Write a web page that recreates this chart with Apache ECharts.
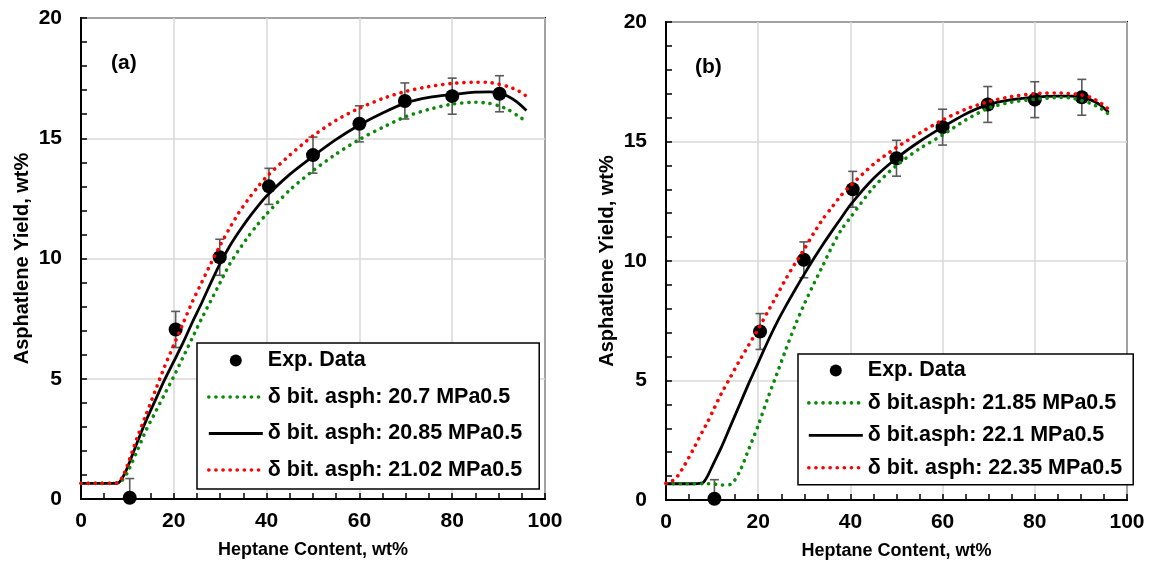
<!DOCTYPE html>
<html>
<head>
<meta charset="utf-8">
<script src="https://cdn.jsdelivr.net/npm/echarts@6/dist/echarts.min.js"></script>
<style>
html,body{margin:0;padding:0;background:#fff;}
#chart{width:1151px;height:573px;}
</style>
</head>
<body>
<div id="chart"></div>
<script>
// ---------- data ----------
const xTicks = [0, 20, 40, 60, 80, 100];
const yTicks = [0, 5, 10, 15, 20];

const expX   = [10.5, 20.4, 29.9, 40.5, 50, 60, 69.8, 80, 90.2];
const expY   = [0.05, 7.05, 10.05, 13.0, 14.3, 15.6, 16.55, 16.75, 16.85];
const expErr = [0.8, 0.75, 0.75, 0.75, 0.75, 0.75, 0.75, 0.75, 0.75];

const curveX = [0, 2, 4, 6, 8, 9, 10, 12, 14, 16, 18, 20, 22, 24, 26, 28, 30, 32, 34, 36, 38, 40,
                45, 50, 55, 60, 65, 70, 75, 80, 85, 88, 90, 92, 94, 96];

// panel (a)
const aGreen = [0.65, 0.65, 0.65, 0.65, 0.66, 0.8, 1.1, 1.95, 2.85, 3.6, 4.35, 5.1, 5.9, 6.7, 7.5, 8.25, 9.0, 9.75, 10.35, 10.9, 11.4, 11.85,
                12.85, 13.65, 14.35, 14.95, 15.45, 15.9, 16.2, 16.42, 16.5, 16.45, 16.35, 16.2, 15.95, 15.7];
const aBlack = [0.65, 0.65, 0.65, 0.65, 0.67, 0.9, 1.3, 2.3, 3.25, 4.1, 4.95, 5.72, 6.5, 7.35, 8.15, 9.0, 9.8, 10.5, 11.1, 11.65, 12.15, 12.6,
                13.5, 14.25, 14.95, 15.55, 16.05, 16.47, 16.7, 16.82, 16.92, 16.93, 16.88, 16.75, 16.5, 16.15];
const aRed   = [0.65, 0.65, 0.65, 0.65, 0.67, 0.95, 1.4, 2.5, 3.5, 4.5, 5.5, 6.4, 7.3, 8.2, 9.0, 9.8, 10.55, 11.25, 11.9, 12.45, 12.95, 13.4,
                14.3, 15.1, 15.75, 16.25, 16.65, 16.95, 17.15, 17.28, 17.33, 17.32, 17.25, 17.15, 17.0, 16.75];

// panel (b)
const bGreen = [0.68, 0.68, 0.68, 0.68, 0.68, 0.68, 0.68, 0.63, 0.65, 1.2, 2.15, 3.12, 4.22, 5.25, 6.3, 7.3, 8.2, 9.02, 9.8, 10.6, 11.3, 11.82,
                13.08, 14.0, 14.7, 15.27, 15.9, 16.4, 16.65, 16.77, 16.84, 16.82, 16.72, 16.6, 16.42, 16.15];
const bBlack = [0.68, 0.68, 0.68, 0.68, 0.72, 1.0, 1.4, 2.2, 3.1, 4.0, 4.9, 5.75, 6.6, 7.4, 8.12, 8.8, 9.45, 10.08, 10.68, 11.25, 11.8, 12.35,
                13.45, 14.3, 15.0, 15.6, 16.15, 16.55, 16.75, 16.86, 16.9, 16.9, 16.85, 16.75, 16.55, 16.22];
const bRed   = [0.7, 0.88, 1.45, 2.15, 2.9, 3.25, 3.65, 4.45, 5.15, 5.85, 6.5, 7.15, 7.85, 8.55, 9.25, 9.9, 10.5, 11.15, 11.75, 12.25, 12.75, 13.15,
                14.05, 14.75, 15.35, 15.9, 16.35, 16.67, 16.88, 17.0, 17.03, 17.0, 16.95, 16.85, 16.65, 16.35];

const expName = 'Exp. Data';
const aNames = ['δ bit. asph: 20.7 MPa0.5', 'δ bit. asph: 20.85 MPa0.5', 'δ bit. asph: 21.02 MPa0.5'];
const bNames = ['δ bit.asph: 21.85 MPa0.5', 'δ bit.asph: 22.1 MPa0.5', 'δ bit. asph: 22.35 MPa0.5'];
const panelLabels = ['(a)', '(b)'];
const xTitle = 'Heptane Content, wt%';
const yTitle = 'Asphatlene Yield, wt%';

// ---------- styling ----------
const FONT = 'Liberation Sans, Arial, sans-serif';
const GREEN = '#0a8a0a', RED = '#ff0000', BLACK = '#000000';

const pair = (ys) => curveX.map((x, i) => [x, ys[i]]);
const expPts = expX.map((x, i) => [x, expY[i]]);
const errPts = expX.map((x, i) => [x, expY[i], expErr[i]]);

function xAxisCfg(gi) {
  return {
    gridIndex: gi, type: 'value', min: xTicks[0], max: xTicks[xTicks.length - 1], interval: xTicks[1] - xTicks[0],
    axisLine: {show: true, onZero: false, lineStyle: {color: '#000', width: 2}},
    axisTick: {show: true, inside: true, length: 6, lineStyle: {color: '#000', width: 1.5}},
    minorTick: {show: true, splitNumber: 4, length: 6, lineStyle: {color: '#000', width: 1.5}},
    splitLine: {show: true, lineStyle: {color: '#d9d9d9', width: 1.5}},
    axisLabel: {fontSize: 21, fontWeight: 'bold', color: '#000', fontFamily: FONT, margin: 12},
    name: xTitle, nameLocation: 'middle', nameGap: 42,
    nameTextStyle: {fontSize: 18, fontWeight: 'bold', color: '#000', fontFamily: FONT}
  };
}
function yAxisCfg(gi) {
  return {
    gridIndex: gi, type: 'value', min: yTicks[0], max: yTicks[yTicks.length - 1], interval: yTicks[1] - yTicks[0],
    axisLine: {show: true, onZero: false, lineStyle: {color: '#000', width: 2}},
    axisTick: {show: true, inside: true, length: 6, lineStyle: {color: '#000', width: 1.5}},
    minorTick: {show: true, splitNumber: 5, length: 6, lineStyle: {color: '#000', width: 1.5}},
    splitLine: {show: true, lineStyle: {color: '#d9d9d9', width: 1.5}},
    axisLabel: {fontSize: 21, fontWeight: 'bold', color: '#000', fontFamily: FONT, margin: 19},
    name: yTitle, nameLocation: 'middle', nameGap: 49, nameRotate: 90,
    nameTextStyle: {fontSize: 20, fontWeight: 'bold', color: '#000', fontFamily: FONT}
  };
}

function errSeries(gi) {
  return {
    type: 'custom', xAxisIndex: gi, yAxisIndex: gi, data: errPts, clip: true, z: 2,
    encode: {x: 0, y: 1}, silent: true,
    renderItem: function (params, api) {
      const x = api.value(0), y = api.value(1), e = api.value(2);
      const t = api.coord([x, y + e]);
      const b = api.coord([x, y - e]);
      const hw = 4.5;
      const st = {stroke: '#5a5a5a', lineWidth: 1.6};
      return {type: 'group', children: [
        {type: 'line', shape: {x1: t[0], y1: t[1], x2: b[0], y2: b[1]}, style: st},
        {type: 'line', shape: {x1: t[0] - hw, y1: t[1], x2: t[0] + hw, y2: t[1]}, style: st},
        {type: 'line', shape: {x1: b[0] - hw, y1: b[1], x2: b[0] + hw, y2: b[1]}, style: st}
      ]};
    }
  };
}
function expSeries(gi) {
  return {
    name: expName, type: 'scatter', xAxisIndex: gi, yAxisIndex: gi, data: expPts, clip: false,
    symbol: 'circle', symbolSize: 14, itemStyle: {color: '#000', opacity: 1}, z: 3
  };
}
const dotted = (c) => ({color: c, width: 3.6, type: [0.1, 7], cap: 'round'});
const solid = {color: BLACK, width: 2.8, type: 'solid'};
function lineSeries(gi, name, ys, style, z) {
  return {
    name: name, type: 'line', xAxisIndex: gi, yAxisIndex: gi, data: pair(ys),
    symbol: 'none', smooth: 0.25, lineStyle: style, itemStyle: {color: style.color},
    z: z, silent: true
  };
}

function legendCfg(left, top, names, gap, pad) {
  const hidden = {color: 'rgba(0,0,0,0)', borderWidth: 0, opacity: 0};
  const items = [
    {name: expName},
    {name: names[0], itemStyle: hidden, lineStyle: dotted(GREEN)},
    {name: names[1], itemStyle: hidden, lineStyle: solid},
    {name: names[2], itemStyle: hidden, lineStyle: dotted(RED)}
  ];
  return {
    orient: 'vertical', left: left, top: top, data: items,
    itemWidth: 54, itemHeight: 12, itemGap: gap, padding: pad,
    borderColor: '#000', borderWidth: 1.5, backgroundColor: '#fff', selectedMode: false,
    textStyle: {fontSize: 21.5, fontWeight: 'bold', color: '#000', fontFamily: FONT, lineHeight: 22},
    z: 10
  };
}

const chart = echarts.init(document.getElementById('chart'), null, {renderer: 'canvas'});
chart.setOption({
  animation: false,
  backgroundColor: '#fff',
  grid: [
    {left: 81, top: 18, width: 464, height: 481, show: true, borderColor: '#000', borderWidth: 2, containLabel: false},
    {left: 666, top: 22, width: 461, height: 478, show: true, borderColor: '#000', borderWidth: 2, containLabel: false}
  ],
  xAxis: [xAxisCfg(0), xAxisCfg(1)],
  yAxis: [yAxisCfg(0), yAxisCfg(1)],
  legend: [
    legendCfg(197, 343, aNames, 14.5, [6.5, 17, 8, 10]),
    legendCfg(798, 354, bNames, 10.4, [5.5, 11, 6, 9])
  ],
  graphic: [
    {type: 'text', left: 111, top: 53, z: 20, style: {text: panelLabels[0], font: 'bold 21px ' + FONT, fill: '#000'}},
    {type: 'text', left: 695, top: 57, z: 20, style: {text: panelLabels[1], font: 'bold 21px ' + FONT, fill: '#000'}}
  ],
  series: [
    errSeries(0), expSeries(0),
    lineSeries(0, aNames[1], aBlack, solid, 4),
    lineSeries(0, aNames[0], aGreen, dotted(GREEN), 5),
    lineSeries(0, aNames[2], aRed, dotted(RED), 6),
    errSeries(1), expSeries(1),
    lineSeries(1, bNames[1], bBlack, solid, 4),
    lineSeries(1, bNames[0], bGreen, dotted(GREEN), 5),
    lineSeries(1, bNames[2], bRed, dotted(RED), 6)
  ]
});
</script>
</body>
</html>
